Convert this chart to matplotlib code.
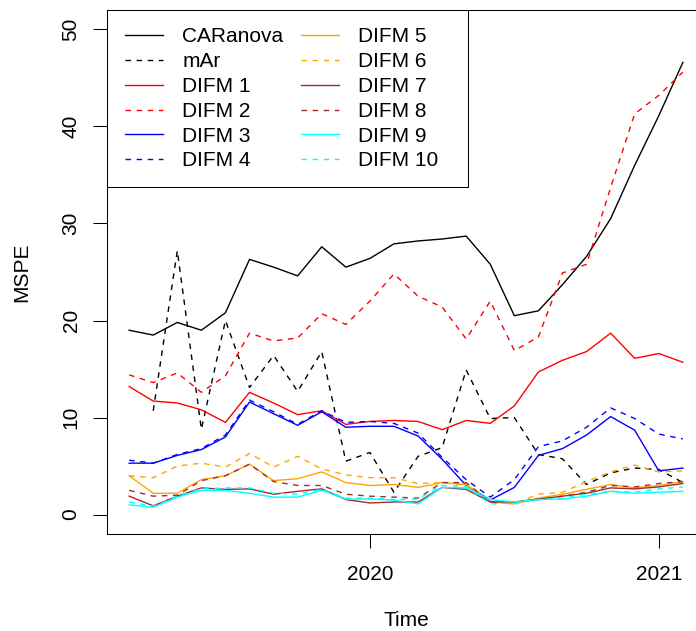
import numpy as np
import matplotlib
matplotlib.use("Agg")
import matplotlib.pyplot as plt
from matplotlib.patches import Rectangle

plt.rcParams["font.family"] = ["Liberation Sans", "DejaVu Sans"]
plt.rcParams["font.size"] = 15

# monthly series, March 2019 .. February 2021
start_year = 2019
start_month = 3
n_months = 24

caranova = [19.0, 18.5, 19.8, 19.0, 20.8, 26.3, 25.5, 24.6, 27.6, 25.5, 26.4, 27.9,
            28.2, 28.4, 28.7, 25.8, 20.5, 21.0, 23.7, 26.6, 30.5, 36.0, 41.1, 46.6]
mar = [None, 10.7, 27.2, 8.8, 20.0, 13.1, 16.4, 12.7, 16.8, 5.5, 6.4, 2.3,
       6.0, 6.9, 14.9, 9.9, 10.0, 6.2, 5.75, 3.1, 4.3, 4.8, 4.65, 3.3]
difm1 = [13.2, 11.7, 11.5, 10.8, 9.5, 12.6, 11.5, 10.3, 10.7, 9.3, 9.6, 9.7,
         9.6, 8.75, 9.7, 9.4, 11.2, 14.7, 15.9, 16.8, 18.7, 16.1, 16.6, 15.7]
difm2 = [14.4, 13.6, 14.6, 12.6, 14.3, 18.7, 17.9, 18.2, 20.7, 19.6, 22.0, 24.8,
         22.5, 21.4, 18.1, 22.0, 16.9, 18.3, 24.9, 25.8, 33.7, 41.3, 43.2, 45.6]
difm3 = [5.3, 5.3, 6.1, 6.7, 8.0, 11.6, 10.4, 9.2, 10.6, 9.0, 9.1, 9.1,
         8.1, 5.7, 3.0, 1.5, 2.8, 6.1, 6.8, 8.2, 10.1, 8.7, 4.5, 4.8]
difm4 = [5.6, 5.3, 6.2, 6.8, 8.2, 11.8, 10.6, 9.3, 10.7, 9.5, 9.6, 9.4,
         8.4, 5.9, 3.6, 1.8, 3.6, 7.0, 7.6, 9.0, 11.0, 9.9, 8.3, 7.8]
difm5 = [4.0, 2.2, 2.2, 3.6, 4.0, 5.2, 3.5, 3.7, 4.4, 3.3, 3.0, 3.1,
         2.8, 3.3, 3.1, 1.3, 1.1, 1.7, 2.1, 2.6, 3.1, 2.75, 3.0, 3.4]
difm6 = [4.0, 3.8, 5.0, 5.3, 4.9, 6.3, 4.9, 6.0, 4.7, 4.1, 3.8, 3.8,
         3.2, 3.3, 3.0, 1.4, 1.1, 2.1, 2.3, 3.4, 4.4, 5.1, 4.4, 4.5]
difm7 = [1.9, 0.9, 1.9, 2.75, 2.6, 2.65, 2.1, 2.4, 2.65, 1.55, 1.2, 1.3,
         1.3, 2.8, 2.6, 1.3, 1.3, 1.6, 1.9, 2.2, 2.75, 2.65, 2.85, 3.2]
difm8 = [2.5, 1.9, 2.0, 3.5, 4.0, 5.2, 3.4, 3.0, 3.0, 2.1, 1.9, 1.8,
         1.7, 3.3, 3.3, 1.3, 1.3, 1.55, 1.9, 2.3, 3.0, 2.85, 3.2, 3.4]
difm9 = [1.0, 0.75, 1.8, 2.5, 2.5, 2.2, 1.8, 1.8, 2.5, 1.6, 1.6, 1.5,
         1.1, 2.8, 2.75, 1.55, 1.3, 1.55, 1.6, 1.9, 2.4, 2.2, 2.3, 2.4]
difm10 = [1.3, 0.85, 1.9, 2.65, 2.75, 2.75, 2.2, 2.1, 2.6, 1.7, 1.7, 1.55,
          1.6, 3.0, 2.9, 1.1, 1.2, 1.55, 1.7, 2.1, 2.4, 2.3, 2.65, 2.85]

labels = ["CARanova", "mAr"] + ["DIFM %d" % k for k in range(1, 11)]
series = [caranova, mar, difm1, difm2, difm3, difm4, difm5,
          difm6, difm7, difm8, difm9, difm10]
colors = ["black", "black", "red", "red", "blue", "blue", "orange", "orange",
          "#A52A2A", "#A52A2A", "cyan", "cyan"]
styles = ["-", "--"] * 6

t = start_year + (start_month - 1) / 12 + np.arange(n_months) / 12

fig = plt.figure(figsize=(6.96, 6.31), dpi=100)
ax = fig.add_axes([107 / 696, 97 / 631, 598 / 696, 524 / 631])

for vals, lab, col, ls in zip(series, labels, colors, styles):
    y = np.array([np.nan if v is None else v for v in vals], dtype=float)
    kw = dict(color=col, lw=1.0, label=lab)
    if ls == "--":
        kw["dashes"] = (4, 4)
    ax.plot(t, y, **kw)

span = t[-1] - t[0]
ax.set_xlim(t[0] - 0.04 * span, t[-1] + 0.04 * span)
ax.set_ylim(-2, 52)
ax.set_xticks([2020, 2021])
ax.set_xticklabels(["2020", "2021"])
ax.set_yticks([0, 10, 20, 30, 40, 50])
ax.tick_params(axis="both", direction="out", length=10, width=0.75)
ax.tick_params(axis="x", pad=12)
ax.tick_params(axis="y", pad=9, labelrotation=90)
for lab in ax.get_yticklabels():
    lab.set_va("center")
for sp in ax.spines.values():
    sp.set_linewidth(0.75)

ax.set_xlabel("Time")
ax.set_ylabel("MSPE")
ax.xaxis.set_label_coords(0.5, -0.147)
ax.yaxis.set_label_coords(-0.126, 0.5)

# legend frame, R style (flush with top-left corner)
ax.add_patch(Rectangle((0, 0.6622), 0.6037, 0.3378, transform=ax.transAxes,
                       facecolor="white", edgecolor="black", lw=0.75, zorder=4))
ax.legend(loc="upper left", bbox_to_anchor=(0.0301, 0.967), ncol=2,
          frameon=False, borderpad=0, borderaxespad=0, handlelength=1.83,
          handletextpad=0.91, columnspacing=0.86, labelspacing=0.28)

fig.savefig("out.png", dpi=100)
